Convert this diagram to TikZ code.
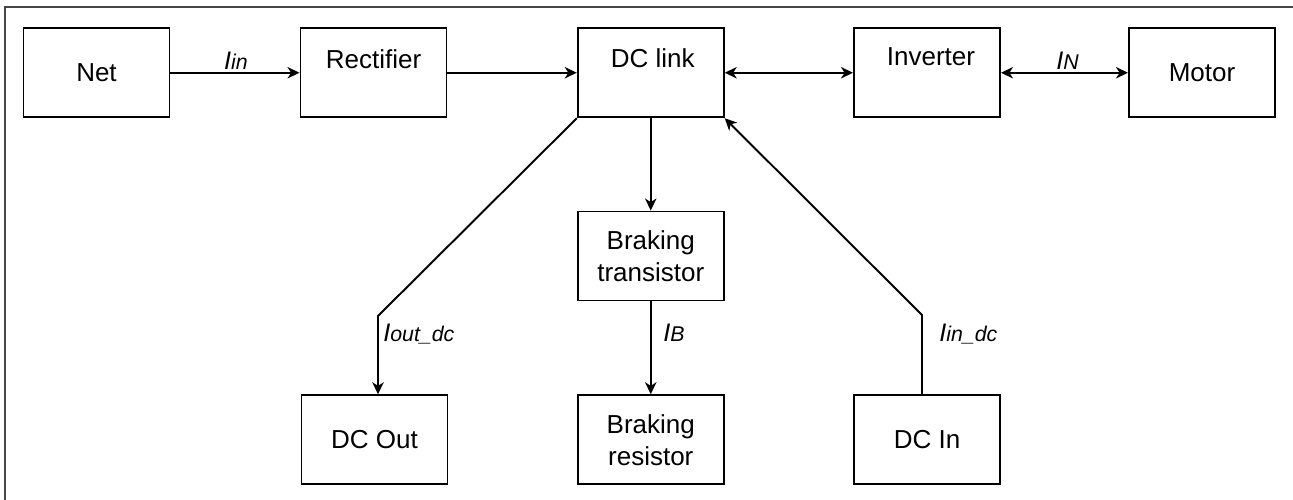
\documentclass[tikz,border=0pt]{standalone}
\usepackage{fontspec}
\setmainfont{Liberation Sans}
\usetikzlibrary{arrows.meta,calc}
\definecolor{framegray}{RGB}{70,70,70}
\newcommand\curlbl[2]{\textit{#1}{\fontsize{16}{18}\selectfont\textit{#2}}}
\tikzset{
  box/.style={draw=black, line width=1.45pt, minimum width=109.5pt, minimum height=66.75pt,
    inner sep=0pt, align=center, font=\fontsize{19.5}{24}\selectfont},
  boxtext/.style={inner sep=0pt, font=\fontsize{19.5}{24}\selectfont},
  tipA/.tip={Stealth[length=9pt,width=8.5pt,inset=2.7pt]},
  conn/.style={line width=1.45pt, -tipA},
  dconn/.style={line width=1.45pt, tipA-tipA},
  lbl/.style={inner sep=0pt, font=\fontsize{19}{21}\selectfont},
}
\begin{document}
\begin{tikzpicture}[x=0.75pt,y=-0.75pt]
\useasboundingbox (0,0) rectangle (1293,500);
\clip (0,0) rectangle (1293,500);
% outer frame (continues past right and bottom edges)
\draw[framegray, line width=1.5pt] (4.8,7.3) rectangle (1320,530);

% top row
\node[box] (net)   at (96.5,72.75)  {Net};
\node[box] (rect)  at (373.5,72.75) {};
\node[boxtext] at ($(rect.center)+(0,-14)$) {Rectifier};
\node[box] (dcl)   at (650.75,72.75) {};
\node[boxtext] at ($(dcl.center)+(2,-14.5)$) {DC link};
\node[box] (inv)   at (927,72.75) {};
\node[boxtext] at ($(inv.center)+(4,-16.5)$) {Inverter};
\node[box] (motor) at (1202,72.75) {Motor};

% middle / bottom
\node[box] (btr)   at (650.75,256)   {Braking\\transistor};
\node[box] (bres)  at (650.75,439.75) {Braking\\resistor};
\node[box] (dcout) at (374.5,439.75) {DC Out};
\node[box] (dcin)  at (927,439.75)   {DC In};

% bends
\coordinate (bendA) at (378,316);
\coordinate (bendB) at (922,315);

% connectors
\draw[conn]  (net) -- (rect);
\draw[conn]  (rect) -- (dcl);
\draw[dconn] (dcl) -- (inv);
\draw[dconn] (inv) -- (motor);
\draw[conn]  (dcl.south) -- (btr.north);
\draw[conn]  (btr.south) -- (bres.north);
\draw[conn]  (dcl.south west) -- (bendA) -- (bendA |- dcout.north);
\draw[conn]  (bendB |- dcin.north) -- (bendB) -- (dcl.south east);

% labels
\node[lbl, anchor=base] (lin) at ($(net.east)!0.5!(rect.west)+(1,-3.5)$) {\curlbl{I}{in}};
\node[lbl, anchor=base] (lN)  at ($(inv.east)!0.5!(motor.west)+(3,-3.5)$) {\curlbl{I}{N}};
\node[lbl, anchor=base west] (lout) at (383,341.5) {\curlbl{I}{out\_dc}};
\node[lbl, anchor=base west] (lB)   at (663,341.5) {\curlbl{I}{B}};
\node[lbl, anchor=base west] (lindc) at (939,341.5) {\curlbl{I}{in\_dc}};
\end{tikzpicture}
\end{document}
